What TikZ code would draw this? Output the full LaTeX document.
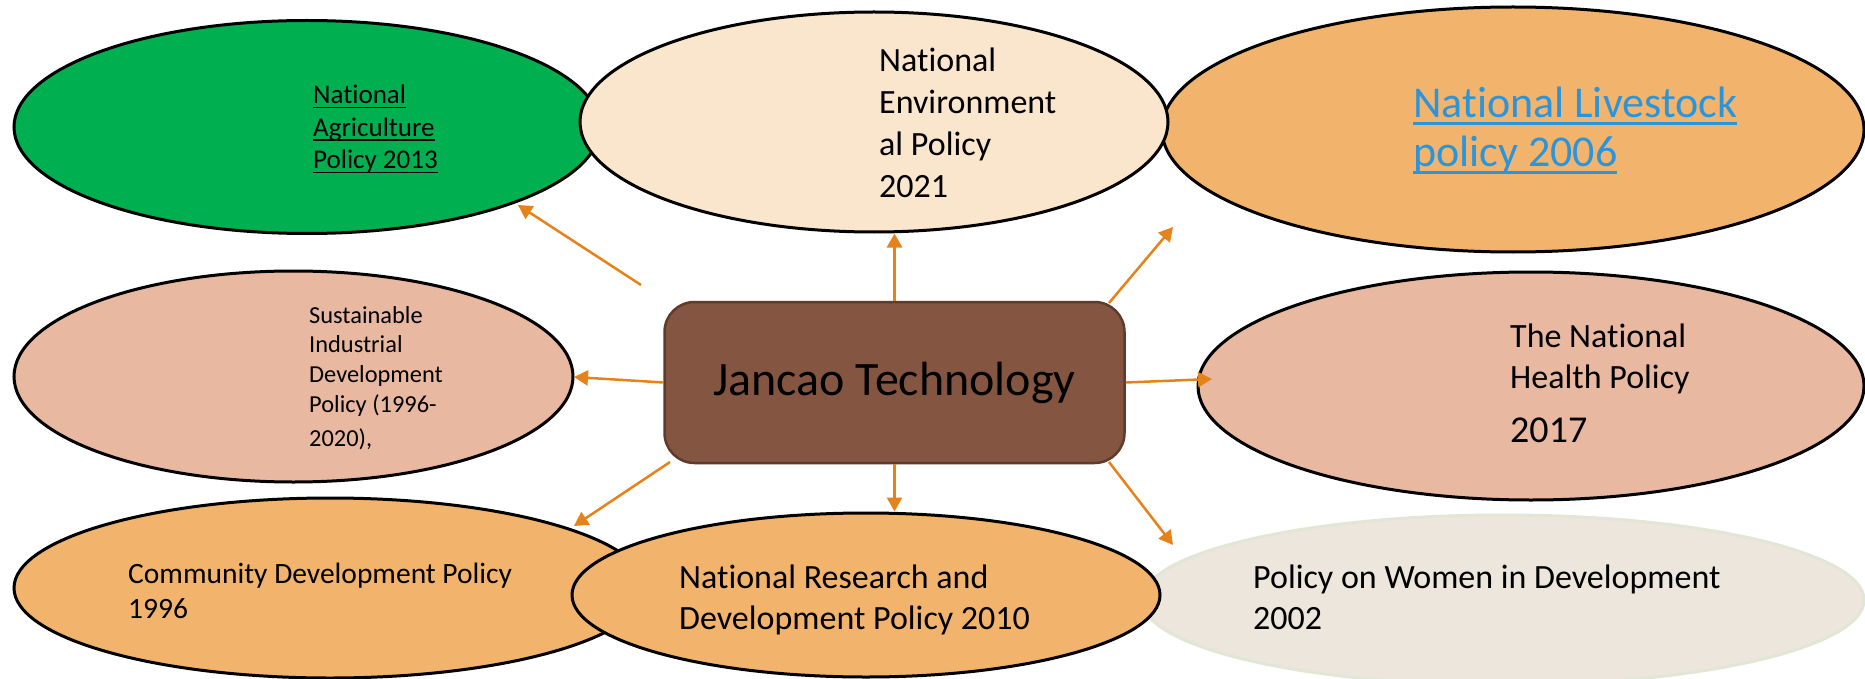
\documentclass[tikz,border=0pt]{standalone}
\usepackage{fontspec}
\setmainfont{Carlito}[Ligatures=NoCommon]
\usetikzlibrary{shapes.geometric,arrows.meta}
\definecolor{cgreen}{HTML}{00B050}
\definecolor{ccream}{HTML}{FAE5CD}
\definecolor{corange}{HTML}{F2B46D}
\definecolor{cpink}{HTML}{E9B8A1}
\definecolor{cgrey}{HTML}{ECE6DC}
\definecolor{cgreyedge}{HTML}{E2E6D4}
\definecolor{cbrown}{HTML}{845641}
\definecolor{cbrownedge}{HTML}{5E3B2A}
\definecolor{carrow}{HTML}{E6821A}
\definecolor{clink}{HTML}{2B95DB}
\newcommand{\txtlines}[1]{\begin{tabular}[t]{@{}l@{}}#1\end{tabular}}
\newcommand{\undl}[1]{\setbox0\hbox{#1}\rlap{\rule[-0.16em]{\wd0}{0.06em}}\box0}
\tikzset{
  oval/.style={ellipse, draw=black, line width=3pt, inner sep=0pt},
  lbl/.style={anchor=base west, inner sep=0pt, text=black},
  hub/.style={rectangle, rounded corners=30pt, fill=cbrown, draw=cbrownedge, line width=2.5pt,
    minimum width=460pt, minimum height=161pt, inner sep=0pt, font=\fontsize{48}{56}\selectfont},
  conn/.style={draw=carrow, line width=2.5pt, -{Triangle[length=14pt,width=15pt]}}
}
\begin{document}
\begin{tikzpicture}[x=1pt,y=-1pt]
\useasboundingbox (0,0) rectangle (1865,679);
\fill[white] (0,0) rectangle (1865,679);
% ellipses
\node[oval, fill=cgreen, minimum width=586pt, minimum height=213pt] (agri) at (307,127) {};
\node[oval, fill=corange, minimum width=702pt, minimum height=245pt] (live) at (1513,129.5) {};
\node[oval, fill=ccream, minimum width=588pt, minimum height=220pt] (env) at (874,122) {};
\node[oval, fill=cpink, minimum width=559pt, minimum height=211pt] (ind) at (293.5,376.5) {};
\node[oval, fill=cpink, minimum width=666pt, minimum height=228pt] (health) at (1531,386) {};
\node[oval, draw=cgreyedge, fill=cgrey, minimum width=722pt, minimum height=170pt] (women) at (1503,600) {};
\node[oval, fill=corange, minimum width=632pt, minimum height=180pt] (comm) at (330,588) {};
\node[oval, fill=corange, minimum width=588pt, minimum height=164pt] (res) at (866,595) {};
% texts
\node[lbl, font=\fontsize{27}{32.5}\selectfont] (tagri) at (313,104)
  {\txtlines{\undl{National}\\\undl{Agriculture}\\\undl{Policy 2013}}};
\node[lbl, font=\fontsize{34}{42}\selectfont] (tenv) at (879,72)
  {\txtlines{National\\Environment\\al Policy\\2021}};
\node[lbl, text=clink, font=\fontsize{44}{49}\selectfont] (tlive) at (1413,118)
  {\txtlines{\undl{National Livestock}\\\undl{policy 2006}}};
\node[lbl, font=\fontsize{24.4}{29.7}\selectfont] (tind) at (309,323)
  {\txtlines{Sustainable\\Industrial\\Development\\Policy (1996-\\[5pt]2020),}};
\node[lbl, font=\fontsize{34}{41}\selectfont] (thealth) at (1510,347)
  {\txtlines{The National\\Health Policy\\[13pt]{\fontsize{38}{41}\selectfont 2017}}};
\node[lbl, font=\fontsize{29.5}{35}\selectfont] (tcomm) at (128,583)
  {\txtlines{Community Development Policy\\1996}};
\node[lbl, font=\fontsize{34}{41}\selectfont] (tres) at (679,588)
  {\txtlines{National Research and\\Development Policy 2010}};
\node[lbl, font=\fontsize{34}{41}\selectfont] (twomen) at (1253,588)
  {\txtlines{Policy on Women in Development\\2002}};
% hub
\node[hub] (hub) at (894.5,382.5) {Jancao Technology};
% connector ends
\coordinate (s1) at (641,285);
\coordinate (e1) at (518,205);
\coordinate (e2) at (hub.north |- env.south);
\coordinate (s3) at (1109,303);
\coordinate (e3) at (1173,227);
\coordinate (e4) at (574,377);
\coordinate (e5) at (1212,379);
\coordinate (s6) at (670,462);
\coordinate (e6) at (574,526);
\coordinate (e7) at (hub.south |- res.north);
\coordinate (s8) at (1109,462);
\coordinate (e8) at (1173,545);
% connectors
\draw[conn] (s1) -- (e1);
\draw[conn] (hub.north) -- (e2);
\draw[conn] (s3) -- (e3);
\draw[conn] (hub.west) -- (e4);
\draw[conn] (hub.east) -- (e5);
\draw[conn] (s6) -- (e6);
\draw[conn] (hub.south) -- (e7);
\draw[conn] (s8) -- (e8);
\end{tikzpicture}
\end{document}
